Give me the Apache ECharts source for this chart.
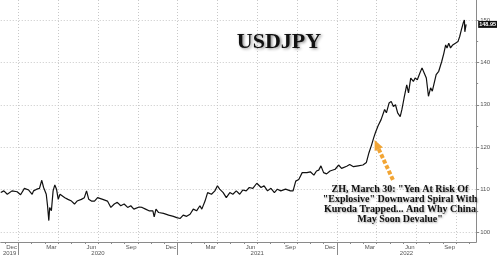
<!DOCTYPE html>
<html>
<head>
<meta charset="utf-8">
<script src="https://cdn.jsdelivr.net/npm/echarts@6/dist/echarts.min.js"></script>
<style>
html,body{margin:0;padding:0;background:#fff;}
#c{width:500px;height:256px;}
</style>
</head>
<body>
<div id="c"></div>
<script>
// ---- data ----
const dates = ['2019-11-21','2019-11-28','2019-12-06','2019-12-17','2019-12-29','2020-01-06','2020-01-15','2020-01-25','2020-02-02','2020-02-05','2020-02-12','2020-02-18','2020-02-23','2020-02-27','2020-03-04','2020-03-07','2020-03-10','2020-03-12','2020-03-16','2020-03-20','2020-03-24','2020-03-28','2020-04-01','2020-04-05','2020-04-09','2020-04-16','2020-04-23','2020-05-01','2020-05-08','2020-05-14','2020-05-24','2020-05-31','2020-06-05','2020-06-10','2020-06-16','2020-06-23','2020-06-30','2020-07-12','2020-07-23','2020-07-31','2020-08-08','2020-08-15','2020-08-23','2020-08-31','2020-09-08','2020-09-15','2020-09-22','2020-10-04','2020-10-11','2020-10-19','2020-10-27','2020-11-05','2020-11-08','2020-11-12','2020-11-18','2020-11-29','2020-12-11','2020-12-22','2020-12-30','2021-01-07','2021-01-14','2021-01-22','2021-01-30','2021-02-06','2021-02-13','2021-02-20','2021-02-24','2021-03-03','2021-03-09','2021-03-18','2021-03-26','2021-04-01','2021-04-06','2021-04-14','2021-04-21','2021-04-29','2021-05-06','2021-05-14','2021-05-22','2021-05-29','2021-06-06','2021-06-13','2021-06-21','2021-06-30','2021-07-10','2021-07-17','2021-07-25','2021-08-02','2021-08-10','2021-08-17','2021-08-25','2021-09-05','2021-09-16','2021-09-22','2021-09-28','2021-10-05','2021-10-13','2021-10-17','2021-10-24','2021-11-01','2021-11-09','2021-11-15','2021-11-20','2021-11-25','2021-12-01','2021-12-08','2021-12-16','2021-12-28','2022-01-05','2022-01-12','2022-01-16','2022-01-24','2022-01-31','2022-02-08','2022-02-18','2022-02-28','2022-03-08','2022-03-14','2022-03-20','2022-03-25','2022-03-29','2022-04-04','2022-04-11','2022-04-19','2022-04-23','2022-04-29','2022-05-04','2022-05-09','2022-05-14','2022-05-19','2022-05-25','2022-05-29','2022-06-03','2022-06-09','2022-06-13','2022-06-18','2022-06-24','2022-06-28','2022-07-03','2022-07-09','2022-07-14','2022-07-19','2022-07-24','2022-07-29','2022-08-03','2022-08-07','2022-08-11','2022-08-16','2022-08-22','2022-08-29','2022-09-03','2022-09-07','2022-09-10','2022-09-14','2022-09-18','2022-09-23','2022-09-29','2022-10-05','2022-10-09','2022-10-13','2022-10-17','2022-10-20','2022-10-21','2022-10-24'];
const usdjpy = [109.3,109.7,108.9,109.7,109.5,108.8,110.3,109.9,108.9,109.7,110.1,110.3,112.2,110.5,108.9,106.2,102.7,105.8,105.0,109.7,111.1,110.1,107.7,108.9,108.5,108.1,107.7,107.3,106.6,107.3,107.7,108.1,109.7,107.7,107.3,107.3,108.1,107.7,107.3,105.8,106.6,107.0,106.2,106.6,105.8,106.2,105.4,105.9,105.8,105.4,105.0,105.0,103.6,105.4,104.6,104.4,104.0,103.7,103.4,103.2,104.0,103.7,104.2,105.4,105.0,106.2,105.4,107.3,109.3,108.9,109.7,110.9,110.1,109.3,108.1,109.3,108.9,109.7,108.9,109.9,109.7,110.5,110.3,111.5,110.5,110.9,109.7,110.3,109.3,110.1,109.7,110.1,109.7,109.7,112.0,112.4,114.0,114.4,114.0,114.2,113.4,114.4,114.6,115.6,114.0,113.7,114.4,114.8,115.8,115.0,114.8,115.5,115.9,115.4,115.6,115.8,116.4,118.7,120.5,122.2,123.4,125.0,126.5,128.9,128.1,130.4,130.8,129.6,130.0,128.1,127.2,128.9,131.6,134.7,132.8,136.3,135.5,136.3,135.9,137.5,138.7,137.5,136.3,132.0,134.0,133.2,133.6,137.1,137.9,140.2,142.2,144.1,143.4,144.5,143.4,144.1,144.5,144.9,146.1,147.7,149.2,150.0,147.2,148.95];

const yTicks = [100, 110, 120, 130, 140, 150];
const monthLabels = ['Dec','Mar','Jun','Sep','Dec','Mar','Jun','Sep','Dec','Mar','Jun','Sep'];
const monthLabelDates = ['2019-12-16','2020-03-16','2020-06-16','2020-09-16','2020-12-16','2021-03-16','2021-06-16','2021-09-16','2021-12-16','2022-03-16','2022-06-16','2022-09-16'];
const yearLabels = ['2019','2020','2021','2022'];
const xStart = '2019-11-21';
const xEnd = '2022-11-16';
const yMin = 97.65, yMax = 154.7;

const titleText = 'USDJPY';
const noteText = 'ZH, March 30: "Yen At Risk Of\n"Explosive" Downward Spiral With\nKuroda Trapped... And Why China\nMay Soon Devalue"';
const arrowFrom = ['2022-05-08', 112.3];
const arrowTo = ['2022-04-01', 120.6];

// ---- helpers ----
function toMonth(s) {
  const p = s.split('-').map(Number);
  const dim = new Date(p[0], p[1], 0).getDate();
  return (p[0] - 2020) * 12 + (p[1] - 1) + (p[2] - 1) / dim;
}
const xMin = toMonth(xStart), xMax = toMonth(xEnd);
const seriesData = dates.map((d, i) => [toMonth(d), usdjpy[i]]);

const quarterStarts = [];
for (let m = 0; m <= xMax; m += 3) quarterStarts.push(m);
const monthStarts = [];
for (let m = Math.ceil(xMin); m <= xMax; m += 1) monthStarts.push(m);
const yearStarts = [];
for (let m = 0; m <= xMax; m += 12) yearStarts.push(m);
const yearCenters = yearLabels.map(y => {
  const s = (Number(y) - 2020) * 12, e = s + 12;
  return (Math.max(s, xMin) + Math.min(e, xMax)) / 2;
});
const monthLabelVals = monthLabelDates.map(toMonth);
const minorY = [];
for (let v = 100; v <= 150; v += 5) minorY.push(v);
const lastVal = usdjpy[usdjpy.length - 1];

function nearestLabel(vals, labels, v) {
  let bi = 0, bd = Infinity;
  vals.forEach((x, i) => { const d = Math.abs(x - v); if (d < bd) { bd = d; bi = i; } });
  return labels[bi];
}

const gridColor = '#c8c8c8';
const axisColor = '#8a8a8a';
const labelColor = '#555';

const chart = echarts.init(document.getElementById('c'), null, {renderer: 'canvas'});
chart.setOption({
  animation: false,
  backgroundColor: '#fff',
  grid: {left: 0, right: 19, top: 0, bottom: 13, containLabel: false},
  xAxis: [
    {
      type: 'value', min: xMin, max: xMax, position: 'bottom',
      axisLine: {show: true, onZero: false, lineStyle: {color: axisColor, width: 1}},
      axisTick: {show: false, customValues: quarterStarts},
      splitLine: {show: true, lineStyle: {color: gridColor, type: [1, 2], width: 1}},
      axisLabel: {
        customValues: monthLabelVals, margin: 2, fontSize: 6, color: labelColor,
        fontFamily: 'Liberation Sans',
        formatter: v => nearestLabel(monthLabelVals, monthLabels, v)
      }
    },
    {
      type: 'value', min: xMin, max: xMax, position: 'bottom',
      axisLine: {show: false, onZero: false},
      axisTick: {show: true, customValues: monthStarts, length: 2, lineStyle: {color: axisColor}},
      splitLine: {show: false},
      axisLabel: {show: false}
    },
    {
      type: 'value', min: xMin, max: xMax, position: 'bottom',
      axisLine: {show: false, onZero: false},
      axisTick: {show: true, customValues: yearStarts, length: 13, lineStyle: {color: axisColor}},
      splitLine: {show: false},
      axisLabel: {
        customValues: yearCenters, margin: 8, fontSize: 6, color: labelColor,
        fontFamily: 'Liberation Sans',
        formatter: v => nearestLabel(yearCenters, yearLabels, v)
      }
    }
  ],
  yAxis: [
    {
      type: 'value', min: yMin, max: yMax, position: 'right',
      axisLine: {show: true, onZero: false, lineStyle: {color: axisColor, width: 1}},
      axisTick: {show: true, customValues: yTicks, length: 3, lineStyle: {color: axisColor}},
      splitLine: {show: true, lineStyle: {color: gridColor, type: [1, 2], width: 1}},
      axisLabel: {customValues: yTicks, margin: 4, fontSize: 6, color: labelColor, fontFamily: 'Liberation Sans'}
    },
    {
      type: 'value', min: yMin, max: yMax, position: 'right',
      axisLine: {show: false, onZero: false},
      axisTick: {show: true, customValues: minorY, length: 2, lineStyle: {color: axisColor}},
      splitLine: {show: false},
      axisLabel: {show: false}
    },
    {
      type: 'value', min: yMin, max: yMax, position: 'right',
      axisLine: {show: false, onZero: false},
      axisTick: {show: false},
      splitLine: {show: false},
      axisLabel: {
        customValues: [lastVal], margin: 2, fontSize: 5.5, fontWeight: 'bold',
        color: '#fff', backgroundColor: '#111', padding: [1, 1, 0, 1],
        fontFamily: 'Liberation Sans',
        formatter: v => v.toFixed(2)
      }
    }
  ],
  series: [{
    type: 'line',
    xAxisIndex: 0, yAxisIndex: 0,
    data: seriesData,
    showSymbol: false,
    lineStyle: {color: '#111', width: 1.2},
    z: 5,
    markLine: {
      silent: true,
      symbol: ['none', 'triangle'],
      symbolSize: [9, 10],
      label: {show: false},
      lineStyle: {color: '#f2a534', width: 4, type: [4, 2]},
      data: [[
        {coord: [toMonth(arrowFrom[0]), arrowFrom[1]]},
        {coord: [toMonth(arrowTo[0]), arrowTo[1]]}
      ]]
    }
  }],
  graphic: [
    {
      type: 'text', x: 279, y: 42, z: 10,
      style: {
        text: titleText, fill: '#111',
        font: 'bold 22px "Liberation Serif", "DejaVu Serif", serif',
        textAlign: 'center', textVerticalAlign: 'middle',
        shadowBlur: 3, shadowColor: 'rgba(0,0,0,0.45)', shadowOffsetX: 1.5, shadowOffsetY: 1.5,
        textShadowBlur: 3, textShadowColor: 'rgba(0,0,0,0.45)', textShadowOffsetX: 1.5, textShadowOffsetY: 1.5
      }
    },
    {
      type: 'text', x: 400, y: 204, z: 10,
      style: {
        text: noteText, fill: '#111',
        font: 'bold 10px "Liberation Serif", "DejaVu Serif", serif',
        lineHeight: 10,
        textAlign: 'center', textVerticalAlign: 'middle',
        shadowBlur: 2, shadowColor: 'rgba(0,0,0,0.35)', shadowOffsetX: 1, shadowOffsetY: 1,
        textShadowBlur: 2, textShadowColor: 'rgba(0,0,0,0.35)', textShadowOffsetX: 1, textShadowOffsetY: 1
      }
    }
  ]
});
</script>
</body>
</html>
